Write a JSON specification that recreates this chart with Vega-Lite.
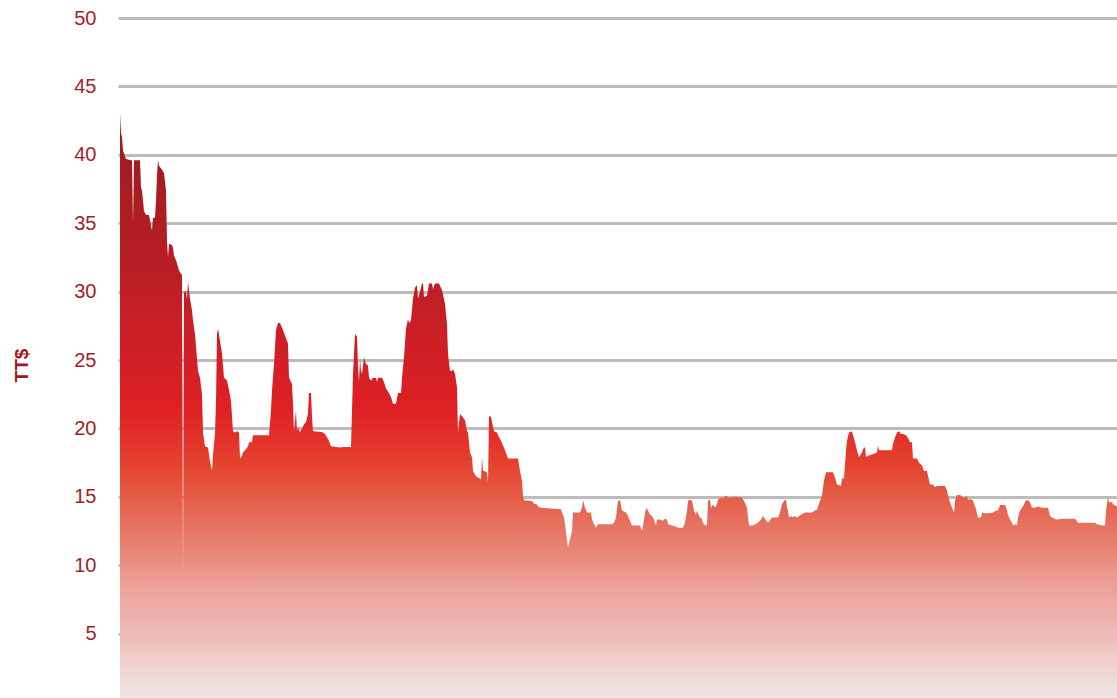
{
  "$schema": "https://vega.github.io/schema/vega-lite/v6.json",
  "width": 999,
  "height": 680,
  "padding": {"left": 118, "top": 18, "right": 0, "bottom": 0},
  "autosize": {"type": "none"},
  "background": "white",
  "config": {"view": {"stroke": null}},
  "data": {"values": [
    {"t":2,"v":43.0},{"t":3,"v":41.6},{"t":4,"v":41.3},{"t":5,"v":40.3},{"t":8,"v":39.7},{"t":13,"v":39.6},{"t":14,"v":39.6},{"t":15,"v":35.0},{"t":16,"v":39.6},{"t":22,"v":39.6},
    {"t":23,"v":37.6},{"t":24,"v":37.4},{"t":26,"v":35.9},{"t":28,"v":35.6},{"t":31,"v":35.6},{"t":33,"v":34.8},{"t":34,"v":34.5},{"t":35,"v":35.4},{"t":37,"v":35.4},{"t":38,"v":36.7},
    {"t":39,"v":38.5},{"t":40,"v":39.6},{"t":41,"v":39.2},{"t":44,"v":38.9},{"t":46,"v":38.65},{"t":48,"v":37.4},{"t":49,"v":33.7},{"t":50,"v":32.5},{"t":51,"v":33.5},{"t":54,"v":33.4},
    {"t":55,"v":33.2},{"t":56,"v":32.65},{"t":58,"v":32.3},{"t":60,"v":31.8},{"t":61,"v":31.55},{"t":63,"v":31.3},{"t":64,"v":31.2},{"t":65,"v":9.3},{"t":66,"v":29.9},{"t":68,"v":30.1},
    {"t":69,"v":29.4},{"t":70,"v":30.7},{"t":72,"v":29.5},{"t":74,"v":28.6},{"t":75,"v":27.9},{"t":77,"v":26.9},{"t":80,"v":24.2},{"t":82,"v":23.7},{"t":84,"v":22.5},{"t":85,"v":19.7},
    {"t":87,"v":18.7},{"t":90,"v":18.6},{"t":92,"v":17.6},{"t":94,"v":16.9},{"t":95,"v":18.1},{"t":97,"v":19.6},{"t":98,"v":22.0},{"t":99,"v":26.9},{"t":100,"v":27.3},{"t":102,"v":26.4},
    {"t":104,"v":25.5},{"t":106,"v":23.7},{"t":109,"v":23.5},{"t":111,"v":22.8},{"t":113,"v":22.0},{"t":115,"v":19.8},{"t":117,"v":19.7},{"t":119,"v":19.8},{"t":121,"v":19.7},{"t":122,"v":17.8},
    {"t":124,"v":18.0},{"t":125,"v":18.25},{"t":128,"v":18.5},{"t":130,"v":18.7},{"t":131,"v":19.0},{"t":134,"v":19.0},{"t":135,"v":19.5},{"t":151,"v":19.5},{"t":153,"v":21.3},{"t":154,"v":22.8},
    {"t":156,"v":24.7},{"t":158,"v":27.2},{"t":160,"v":27.7},{"t":162,"v":27.7},{"t":165,"v":27.2},{"t":169,"v":26.4},{"t":170,"v":26.2},{"t":171,"v":23.7},{"t":174,"v":23.25},{"t":175,"v":21.8},
    {"t":176,"v":19.8},{"t":178,"v":21.3},{"t":179,"v":19.8},{"t":180,"v":20.1},{"t":182,"v":19.7},{"t":184,"v":20.0},{"t":186,"v":20.3},{"t":188,"v":20.45},{"t":190,"v":21.1},{"t":191,"v":22.6},
    {"t":193,"v":22.6},{"t":194,"v":20.8},{"t":195,"v":19.8},{"t":204,"v":19.75},{"t":207,"v":19.6},{"t":209,"v":19.35},{"t":211,"v":19.1},{"t":213,"v":18.7},{"t":222,"v":18.6},{"t":225,"v":18.65},
    {"t":233,"v":18.65},{"t":234,"v":21.3},{"t":235,"v":24.0},{"t":237,"v":26.9},{"t":239,"v":26.7},{"t":240,"v":24.5},{"t":241,"v":23.4},{"t":242,"v":25.1},{"t":243,"v":24.2},{"t":244,"v":24.0},
    {"t":246,"v":25.2},{"t":248,"v":24.7},{"t":250,"v":24.6},{"t":251,"v":23.7},{"t":253,"v":23.5},{"t":255,"v":23.7},{"t":258,"v":23.7},{"t":259,"v":23.4},{"t":260,"v":23.7},{"t":264,"v":23.7},
    {"t":266,"v":23.4},{"t":268,"v":22.9},{"t":270,"v":22.7},{"t":273,"v":22.3},{"t":275,"v":21.8},{"t":278,"v":21.8},{"t":279,"v":22.2},{"t":280,"v":22.6},{"t":283,"v":22.6},{"t":284,"v":23.7},
    {"t":286,"v":25.2},{"t":288,"v":27.3},{"t":290,"v":28.0},{"t":291,"v":27.7},{"t":293,"v":27.9},{"t":295,"v":29.5},{"t":297,"v":30.3},{"t":299,"v":30.45},{"t":300,"v":29.5},{"t":302,"v":30.0},
    {"t":304,"v":30.6},{"t":305,"v":30.6},{"t":306,"v":29.6},{"t":309,"v":29.7},{"t":311,"v":30.6},{"t":314,"v":30.6},{"t":315,"v":30.2},{"t":317,"v":30.6},{"t":321,"v":30.6},{"t":324,"v":30.1},
    {"t":325,"v":29.8},{"t":327,"v":29.1},{"t":329,"v":27.65},{"t":330,"v":25.45},{"t":332,"v":24.2},{"t":334,"v":24.2},{"t":335,"v":24.35},{"t":337,"v":24.0},{"t":339,"v":23.0},{"t":340,"v":19.7},
    {"t":342,"v":21.05},{"t":344,"v":20.9},{"t":347,"v":20.6},{"t":349,"v":19.8},{"t":350,"v":19.7},{"t":352,"v":18.25},{"t":354,"v":17.9},{"t":355,"v":16.9},{"t":358,"v":16.5},{"t":360,"v":16.4},
    {"t":363,"v":16.3},{"t":364,"v":17.9},{"t":365,"v":16.9},{"t":366,"v":16.9},{"t":369,"v":16.8},{"t":370,"v":16.05},{"t":371,"v":20.9},{"t":373,"v":20.85},{"t":374,"v":20.45},{"t":376,"v":19.8},
    {"t":379,"v":19.7},{"t":380,"v":19.5},{"t":383,"v":19.1},{"t":385,"v":18.75},{"t":387,"v":18.4},{"t":389,"v":18.0},{"t":390,"v":17.8},{"t":400,"v":17.8},{"t":402,"v":16.9},{"t":404,"v":16.2},
    {"t":405,"v":15.1},{"t":406,"v":14.75},{"t":414,"v":14.7},{"t":416,"v":14.5},{"t":419,"v":14.45},{"t":420,"v":14.3},{"t":423,"v":14.2},{"t":443,"v":14.1},{"t":444,"v":13.85},{"t":446,"v":13.5},
    {"t":447,"v":13.0},{"t":449,"v":11.8},{"t":450,"v":11.3},{"t":452,"v":11.9},{"t":454,"v":12.5},{"t":455,"v":13.85},{"t":462,"v":13.85},{"t":464,"v":14.2},{"t":465,"v":14.75},{"t":467,"v":14.2},
    {"t":469,"v":13.85},{"t":473,"v":13.85},{"t":474,"v":13.35},{"t":476,"v":13.0},{"t":478,"v":12.75},{"t":480,"v":13.0},{"t":494,"v":13.0},{"t":496,"v":13.1},{"t":498,"v":13.5},{"t":500,"v":14.7},
    {"t":502,"v":14.75},{"t":504,"v":14.0},{"t":508,"v":13.85},{"t":510,"v":13.6},{"t":514,"v":12.9},{"t":522,"v":12.9},{"t":524,"v":12.5},{"t":525,"v":12.9},{"t":528,"v":14.2},{"t":530,"v":14.0},
    {"t":532,"v":13.7},{"t":534,"v":13.6},{"t":536,"v":13.35},{"t":538,"v":12.9},{"t":539,"v":13.35},{"t":542,"v":13.35},{"t":545,"v":13.25},{"t":547,"v":13.4},{"t":549,"v":13.35},{"t":550,"v":13.0},
    {"t":554,"v":12.9},{"t":557,"v":12.85},{"t":560,"v":12.75},{"t":565,"v":12.75},{"t":567,"v":13.1},{"t":569,"v":14.0},{"t":570,"v":14.7},{"t":572,"v":14.8},{"t":574,"v":14.7},{"t":576,"v":14.0},
    {"t":578,"v":13.7},{"t":579,"v":14.0},{"t":581,"v":13.6},{"t":584,"v":13.35},{"t":585,"v":13.1},{"t":587,"v":12.9},{"t":589,"v":12.95},{"t":590,"v":14.7},{"t":592,"v":14.8},{"t":593,"v":14.2},
    {"t":595,"v":14.45},{"t":597,"v":14.2},{"t":599,"v":14.5},{"t":600,"v":14.8},{"t":603,"v":14.95},{"t":605,"v":14.9},{"t":608,"v":15.1},{"t":610,"v":14.95},{"t":614,"v":14.95},{"t":616,"v":15.0},
    {"t":624,"v":14.95},{"t":626,"v":14.7},{"t":629,"v":14.2},{"t":630,"v":13.5},{"t":631,"v":12.9},{"t":635,"v":12.9},{"t":637,"v":13.0},{"t":640,"v":13.1},{"t":643,"v":13.35},{"t":645,"v":13.6},
    {"t":646,"v":13.5},{"t":648,"v":13.3},{"t":650,"v":13.1},{"t":652,"v":13.3},{"t":654,"v":13.5},{"t":660,"v":13.5},{"t":662,"v":13.85},{"t":664,"v":14.45},{"t":666,"v":14.7},{"t":668,"v":14.8},
    {"t":669,"v":14.2},{"t":670,"v":14.0},{"t":671,"v":13.5},{"t":673,"v":13.6},{"t":675,"v":13.5},{"t":676,"v":13.6},{"t":679,"v":13.5},{"t":681,"v":13.6},{"t":683,"v":13.7},{"t":687,"v":13.85},
    {"t":694,"v":13.85},{"t":697,"v":14.0},{"t":699,"v":14.05},{"t":700,"v":14.3},{"t":702,"v":14.7},{"t":704,"v":15.1},{"t":706,"v":16.2},{"t":708,"v":16.8},{"t":715,"v":16.8},{"t":717,"v":16.4},
    {"t":719,"v":15.9},{"t":723,"v":15.8},{"t":724,"v":16.35},{"t":726,"v":16.35},{"t":728,"v":18.4},{"t":729,"v":19.1},{"t":731,"v":19.7},{"t":734,"v":19.8},{"t":735,"v":19.5},{"t":737,"v":19.0},
    {"t":739,"v":18.4},{"t":741,"v":17.9},{"t":744,"v":18.25},{"t":745,"v":18.5},{"t":747,"v":18.65},{"t":748,"v":17.9},{"t":750,"v":18.0},{"t":754,"v":18.1},{"t":759,"v":18.25},{"t":760,"v":18.75},
    {"t":761,"v":18.4},{"t":765,"v":18.4},{"t":772,"v":18.4},{"t":774,"v":18.45},{"t":775,"v":18.85},{"t":777,"v":19.35},{"t":779,"v":19.7},{"t":781,"v":19.8},{"t":783,"v":19.6},{"t":785,"v":19.6},
    {"t":788,"v":19.5},{"t":790,"v":19.3},{"t":792,"v":19.0},{"t":794,"v":19.0},{"t":795,"v":17.8},{"t":799,"v":17.8},{"t":801,"v":17.5},{"t":804,"v":17.3},{"t":806,"v":16.9},{"t":809,"v":16.9},
    {"t":810,"v":16.55},{"t":812,"v":15.9},{"t":815,"v":15.9},{"t":817,"v":15.7},{"t":819,"v":15.8},{"t":827,"v":15.8},{"t":829,"v":15.45},{"t":831,"v":14.8},{"t":834,"v":14.2},{"t":836,"v":13.85},
    {"t":837,"v":14.7},{"t":839,"v":15.2},{"t":840,"v":15.1},{"t":842,"v":15.15},{"t":844,"v":15.0},{"t":846,"v":14.95},{"t":849,"v":15.05},{"t":850,"v":14.8},{"t":854,"v":14.8},{"t":855,"v":14.7},
    {"t":858,"v":14.1},{"t":860,"v":13.5},{"t":863,"v":13.5},{"t":864,"v":13.85},{"t":867,"v":13.8},{"t":872,"v":13.8},{"t":875,"v":13.85},{"t":878,"v":14.0},{"t":880,"v":14.0},{"t":882,"v":14.4},
    {"t":887,"v":14.4},{"t":889,"v":14.0},{"t":890,"v":13.7},{"t":892,"v":13.35},{"t":894,"v":13.1},{"t":895,"v":12.9},{"t":897,"v":13.0},{"t":899,"v":12.95},{"t":900,"v":13.5},{"t":902,"v":14.0},
    {"t":904,"v":14.2},{"t":906,"v":14.45},{"t":908,"v":14.75},{"t":910,"v":14.75},{"t":912,"v":14.6},{"t":914,"v":14.2},{"t":917,"v":14.2},{"t":920,"v":14.3},{"t":924,"v":14.2},{"t":930,"v":14.2},
    {"t":932,"v":13.6},{"t":934,"v":13.5},{"t":938,"v":13.35},{"t":944,"v":13.4},{"t":957,"v":13.4},{"t":960,"v":13.1},{"t":977,"v":13.1},{"t":979,"v":13.0},{"t":984,"v":12.9},{"t":987,"v":12.9},
    {"t":988,"v":14.0},{"t":990,"v":14.95},{"t":991,"v":14.6},{"t":994,"v":14.6},{"t":995,"v":14.45},{"t":998,"v":14.35},{"t":999,"v":14.3}
  ]},
  "mark": {
    "type": "area",
    "interpolate": "linear",
    "color": {
      "gradient": "linear",
      "x1": 0, "y1": 0, "x2": 0, "y2": 1,
      "stops": [
        {"offset": 0.0, "color": "#9a1a1f"},
        {"offset": 0.10, "color": "#a31c21"},
        {"offset": 0.25, "color": "#b81e25"},
        {"offset": 0.40, "color": "#cf1f26"},
        {"offset": 0.50, "color": "#de2024"},
        {"offset": 0.55, "color": "#e3302a"},
        {"offset": 0.60, "color": "#e4452f"},
        {"offset": 0.66, "color": "#e5604c"},
        {"offset": 0.73, "color": "#e8806f"},
        {"offset": 0.80, "color": "#eca097"},
        {"offset": 0.88, "color": "#eebab6"},
        {"offset": 0.95, "color": "#efd6d4"},
        {"offset": 1.0, "color": "#f0e8e8"}
      ]
    }
  },
  "encoding": {
    "x": {"field": "t", "type": "quantitative", "scale": {"domain": [0, 999], "nice": false, "zero": false}, "axis": null},
    "y": {
      "field": "v", "type": "quantitative",
      "scale": {"domain": [0.3, 50], "nice": false, "zero": false},
      "axis": {
        "values": [5, 10, 15, 20, 25, 30, 35, 40, 45, 50],
        "grid": true, "gridColor": "#bcbcbc", "gridWidth": 3,
        "domain": false, "ticks": false,
        "labelFont": "Liberation Sans", "labelFontSize": 20, "labelColor": "#a3222a", "labelPadding": 22,
        "title": "TT$", "titleFont": "Liberation Sans", "titleFontSize": 19, "titleFontWeight": "bold", "titleColor": "#9e1b22",
        "titleX": -91, "titleY": 347, "titleBaseline": "alphabetic", "titleAngle": 270, "titleAlign": "center"
      }
    }
  }
}
